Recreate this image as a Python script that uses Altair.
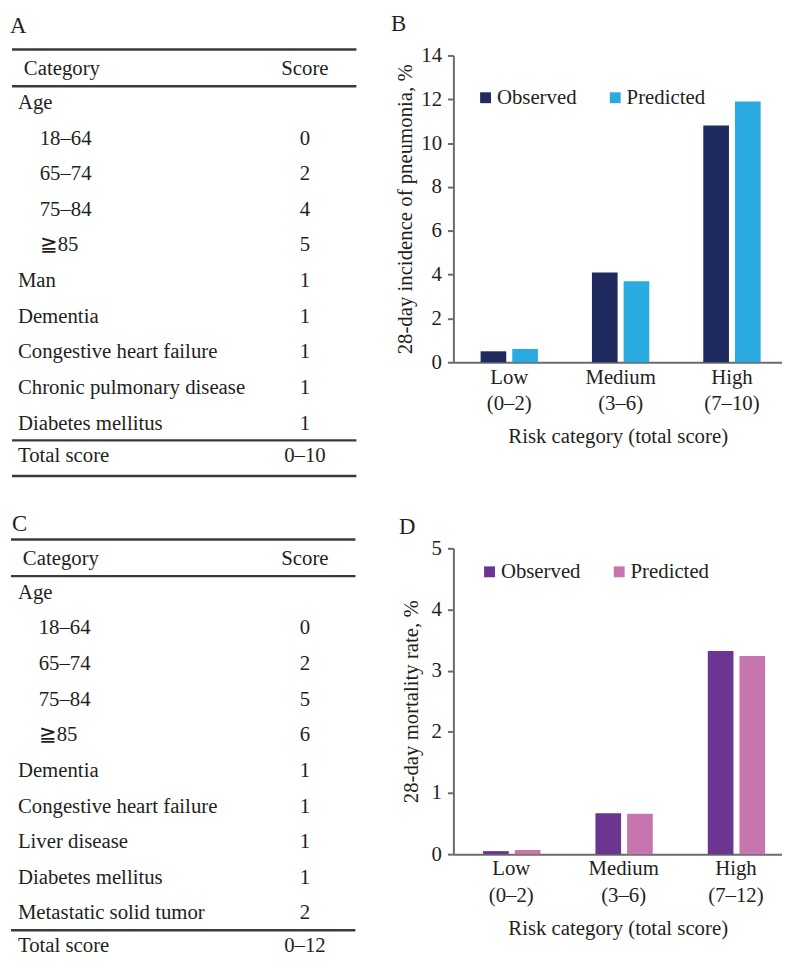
import altair as alt
import pandas as pd

FONT = "Liberation Serif"
TEXT = "#231f20"
RULE = "#3a3a3a"
AXIS = "#6b6b6b"
FS = 21
ROW_H = 36

# ---- Panel A table ----
a_items = ["Age", "18–64", "65–74", "75–84", "≧85", "Man", "Dementia",
           "Congestive heart failure", "Chronic pulmonary disease", "Diabetes mellitus"]
a_scores = ["", "0", "2", "4", "5", "1", "1", "1", "1", "1"]
a_indent = [0, 1, 1, 1, 1, 0, 0, 0, 0, 0]
a_total = "0–10"

# ---- Panel C table ----
c_items = ["Age", "18–64", "65–74", "75–84", "≧85", "Dementia",
           "Congestive heart failure", "Liver disease", "Diabetes mellitus", "Metastatic solid tumor"]
c_scores = ["", "0", "2", "5", "6", "1", "1", "1", "1", "2"]
c_indent = [0, 1, 1, 1, 1, 0, 0, 0, 0, 0]
c_total = "0–12"

# ---- Panel B bars ----
series = ["Observed", "Predicted"]
risk_b = ["Low (0–2)", "Medium (3–6)", "High (7–10)"]
obs_b = [0.5, 4.1, 10.8]
pred_b = [0.6, 3.7, 11.9]

# ---- Panel D bars ----
risk_d = ["Low (0–2)", "Medium (3–6)", "High (7–12)"]
obs_d = [0.05, 0.67, 3.32]
pred_d = [0.07, 0.66, 3.24]


def make_table(letter, items, scores, indent, total, height, row0, letter_row,
               rule_x, score_x, main_x, sub_x, header_x, letter_x, clip=False):
    n = len(items)
    lo = -row0 / ROW_H
    hi = (height - row0) / ROW_H
    yenc = alt.Y("r:Q", scale=alt.Scale(domain=[lo, hi], reverse=True, nice=False, zero=False), axis=None)
    rows = pd.DataFrame({
        "r": list(range(n)) + [n - 0.08],
        "label": items + ["Total score"],
        "score": scores + [total],
        "indent": indent + [0],
    })
    head = pd.DataFrame({"r": [-0.95], "label": ["Category"], "score": ["Score"]})
    rules = pd.DataFrame({"r": [-1.5, -0.47, n - 0.53, n + 0.47]})
    let = pd.DataFrame({"r": [letter_row], "label": [letter]})
    txt = dict(font=FONT, fontSize=FS, color=TEXT, baseline="middle", clip=clip)
    main = alt.Chart(rows).transform_filter("datum.indent == 0").mark_text(align="left", **txt).encode(
        x=alt.value(main_x), y=yenc, text="label:N")
    sub = alt.Chart(rows).transform_filter("datum.indent == 1").mark_text(align="left", **txt).encode(
        x=alt.value(sub_x), y=yenc, text="label:N")
    sc = alt.Chart(rows).mark_text(align="center", **txt).encode(
        x=alt.value(score_x), y=yenc, text="score:N")
    hl = alt.Chart(head).mark_text(align="left", **txt).encode(
        x=alt.value(header_x), y=yenc, text="label:N")
    hs = alt.Chart(head).mark_text(align="center", **txt).encode(
        x=alt.value(score_x), y=yenc, text="score:N")
    rl = alt.Chart(rules).mark_rule(color=RULE, strokeWidth=2.5, clip=clip).encode(
        x=alt.value(rule_x[0]), x2=alt.value(rule_x[1]), y=yenc)
    lt = alt.Chart(let).mark_text(align="left", font=FONT, fontSize=23, color=TEXT, baseline="middle").encode(
        x=alt.value(letter_x), y=yenc, text="label:N")
    return alt.layer(rl, hl, hs, main, sub, sc, lt).properties(width=440, height=height)


def make_bars(letter, risk, obs, pred, colors, ymax, yvals, ytitle, height, ytop,
              pin, pout, align, legend_x, legend_y, letter_xy, ytitle_pad):
    df = pd.DataFrame({
        "risk": risk + risk,
        "series": [series[0]] * len(risk) + [series[1]] * len(risk),
        "value": obs + pred,
    })
    bar = alt.Chart(df).mark_bar().encode(
        x=alt.X("risk:N", sort=risk,
                scale=alt.Scale(paddingInner=pin, paddingOuter=pout, align=align),
                axis=alt.Axis(title="Risk category (total score)", labelAngle=0, ticks=False,
                              labelExpr="split(datum.label, ' ')", labelLineHeight=27,
                              labelPadding=4, titlePadding=12)),
        xOffset=alt.XOffset("series:N", sort=series,
                            scale=alt.Scale(paddingInner=0.19, paddingOuter=0)),
        y=alt.Y("value:Q",
                scale=alt.Scale(domain=[0, ymax], range=[height, ytop], nice=False, zero=True),
                axis=alt.Axis(values=yvals, title=ytitle, grid=False, tickSize=6,
                              labelPadding=6, titlePadding=ytitle_pad)),
        color=alt.Color("series:N", sort=series,
                        scale=alt.Scale(domain=series, range=colors),
                        legend=alt.Legend(title=None, orient="none", legendX=legend_x,
                                          legendY=legend_y, direction="horizontal")),
    )
    lt = alt.Chart(pd.DataFrame({"t": [letter]})).mark_text(
        align="left", baseline="middle", font=FONT, fontSize=23, color=TEXT).encode(
        x=alt.value(letter_xy[0]), y=alt.value(letter_xy[1]), text="t:N")
    return alt.layer(bar, lt).properties(width=332, height=height)


tA = make_table("A", a_items, a_scores, a_indent, a_total, height=482, row0=90, letter_row=-2.17,
                rule_x=(4, 352), score_x=300, main_x=10, sub_x=32, header_x=16, letter_x=2)
tC = make_table("C", c_items, c_scores, c_indent, c_total, height=458, row0=93, letter_row=-1.93,
                rule_x=(3, 351), score_x=300, main_x=10, sub_x=31, header_x=15, letter_x=4, clip=True)

cB = make_bars("B", risk_b, obs_b, pred_b, ["#1f2a5e", "#29abe2"], 14, list(range(0, 15, 2)),
               "28-day incidence of pneumonia, %", height=352, ytop=42,
               pin=0.485, pout=0.218, align=0.56, legend_x=22, legend_y=74, letter_xy=(-63, 10),
               ytitle_pad=5)
cD = make_bars("D", risk_d, obs_d, pred_d, ["#6b3592", "#c775ae"], 5, [0, 1, 2, 3, 4, 5],
               "28-day mortality rate, %", height=357, ytop=48,
               pin=0.498, pout=0.2115, align=0.625, legend_x=26, legend_y=61, letter_xy=(-55, 27),
               ytitle_pad=10)

chart = alt.concat(tA, cB, tC, cD, columns=2, spacing=10, bounds="flush").resolve_scale(
    color="independent"
).properties(
    padding=0
).configure_view(stroke=None).configure_axis(
    domainColor=AXIS, domainWidth=2, tickColor=AXIS, tickWidth=2,
    labelFont=FONT, labelFontSize=21, labelColor=TEXT,
    titleFont=FONT, titleFontSize=21, titleFontWeight="normal", titleColor=TEXT,
).configure_legend(
    labelFont=FONT, labelFontSize=21, labelColor=TEXT, symbolType="square",
    symbolSize=121, symbolStrokeWidth=0, labelOffset=1, columnPadding=28, padding=0,
)

chart.save("out.html", embed_options={"renderer": "svg", "actions": False})
